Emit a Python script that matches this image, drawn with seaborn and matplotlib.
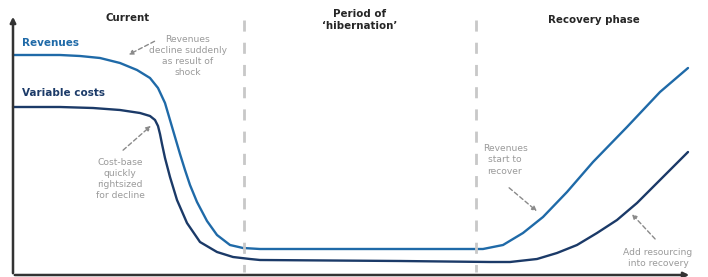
import matplotlib.pyplot as plt
import pandas as pd
import seaborn as sns

# curve shapes (x across, y = height from top, pixels)
rev_x = [13, 60, 80, 100, 120, 137, 150, 158, 165, 170, 175, 180, 185, 190, 197, 207, 217, 230, 243, 260,
         350, 476, 483, 503, 523, 543, 567, 593, 627, 660, 688]
rev_y = [55, 55, 56, 58, 63, 70, 78, 88, 103, 120, 137, 154, 170, 185, 202, 221, 235, 245, 248, 249,
         249, 249, 249, 245, 233, 217, 192, 162, 127, 92, 68]
cost_x = [13, 60, 93, 120, 140, 150, 155, 158, 160, 162, 165, 170, 177, 187, 200, 217, 233, 250, 260,
          400, 490, 510, 537, 557, 577, 597, 617, 637, 647, 667, 688]
cost_y = [107, 107, 108, 110, 113, 116, 120, 126, 134, 144, 158, 177, 200, 223, 242, 252, 257, 259, 260,
          261, 262, 262, 259, 253, 245, 233, 220, 203, 193, 173, 152]

phase_bounds = [244, 476]
phase_titles = ["Current", "Period of\n\u2018hibernation\u2019", "Recovery phase"]

rev_col = "#1f6aa8"
cost_col = "#1b3a68"
grey = "#9a9a9a"

df = pd.concat([
    pd.DataFrame({"x": rev_x, "y": rev_y, "series": "Revenues"}),
    pd.DataFrame({"x": cost_x, "y": cost_y, "series": "Variable costs"}),
])

sns.set_style("white")
plt.rcParams["font.family"] = ["DejaVu Sans"]

fig = plt.figure(figsize=(7.08, 2.77), dpi=100)
ax = fig.add_axes([0, 0, 1, 1])

sns.lineplot(data=df, x="x", y="y", hue="series", palette={"Revenues": rev_col, "Variable costs": cost_col},
             linewidth=1.7, legend=False, sort=False, estimator=None, ax=ax)
for ln in ax.lines:
    ln.set_solid_joinstyle("round")

for b in phase_bounds:
    ax.plot([b, b], [20, 272], color="#c8c8c8", linewidth=2, linestyle=(0, (4, 4)))

# axes drawn as arrows
ax.annotate("", xy=(13, 14), xytext=(13, 276),
            arrowprops=dict(arrowstyle="-|>", color="#333333", lw=1.8, mutation_scale=8))
ax.annotate("", xy=(692, 275), xytext=(12, 275),
            arrowprops=dict(arrowstyle="-|>", color="#333333", lw=1.8, mutation_scale=8))

# phase titles
ax.text(128, 18, phase_titles[0], ha="center", va="center", fontsize=7.4, fontweight="bold")
ax.text(360, 20, phase_titles[1], ha="center", va="center", fontsize=7.4, fontweight="bold", linespacing=1.3)
ax.text(594, 20, phase_titles[2], ha="center", va="center", fontsize=7.4, fontweight="bold")

ax.text(22, 43, "Revenues", ha="left", va="center", fontsize=7.5, fontweight="bold", color=rev_col)
ax.text(22, 93, "Variable costs", ha="left", va="center", fontsize=7.5, fontweight="bold", color=cost_col)

note = dict(ha="center", va="center", fontsize=6.6, color=grey, linespacing=1.3)
arrow = dict(arrowstyle="-|>", color="#8a8a8a", lw=1, linestyle=(0, (3, 2)), mutation_scale=7)

ax.text(188, 56, "Revenues\ndecline suddenly\nas result of\nshock", **note)
ax.annotate("", xy=(126, 56), xytext=(157, 40), arrowprops=arrow)

ax.text(120, 179, "Cost-base\nquickly\nrightsized\nfor decline", **note)
ax.annotate("", xy=(153, 124), xytext=(121, 152), arrowprops=arrow)

ax.text(505, 160, "Revenues\nstart to\nrecover", **note)
ax.annotate("", xy=(539, 213), xytext=(507, 186), arrowprops=arrow)

ax.text(658, 258, "Add resourcing\ninto recovery", **note)
ax.annotate("", xy=(630, 212), xytext=(657, 241), arrowprops=arrow)

ax.set_xlim(0, 708)
ax.set_ylim(277, 0)
ax.axis("off")

fig.savefig("out.png", dpi=100)
